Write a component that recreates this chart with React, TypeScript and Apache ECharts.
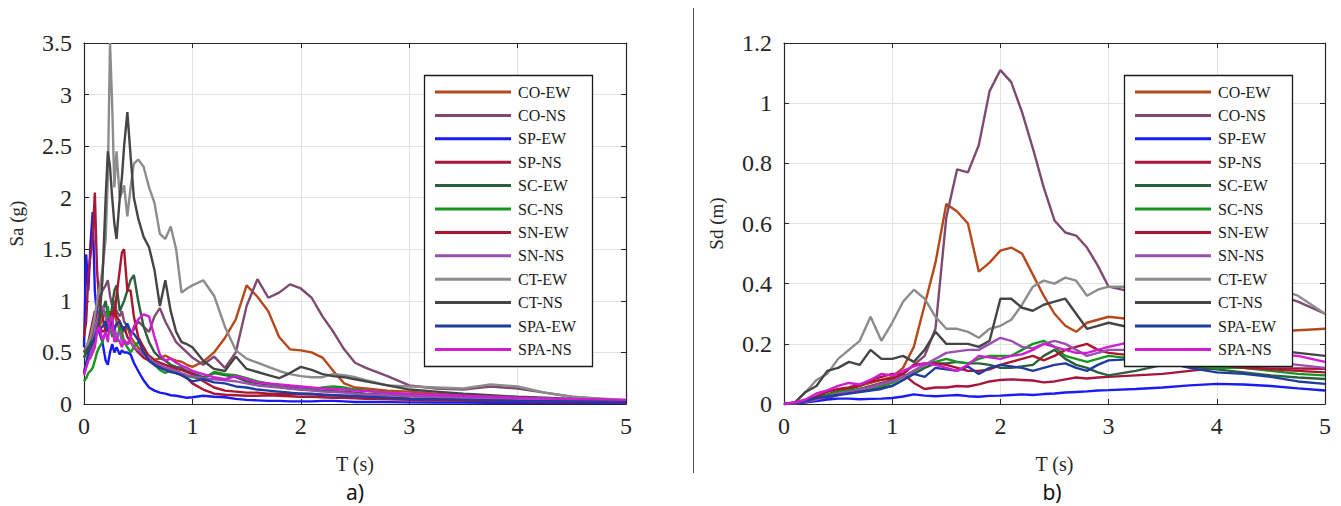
import React, { useEffect, useRef } from "react";
import * as echarts from "echarts";

// Record names and line colours (same order in both panels)
const RECORD_NAMES = [
  "CO-EW", "CO-NS", "SP-EW", "SP-NS", "SC-EW", "SC-NS",
  "SN-EW", "SN-NS", "CT-EW", "CT-NS", "SPA-EW", "SPA-NS",
];
const RECORD_COLORS = [
  "#B5491A", "#7E4A72", "#1A1AF5", "#A8173A", "#2B5F3D", "#16961E",
  "#A8172E", "#9A50B0", "#8C8C8C", "#454545", "#1F3C9E", "#D21CD2",
];

// Panel a) — spectral acceleration Sa (g) against period T (s)
const PERIOD_A = [
  0, 0.02, 0.04, 0.06, 0.08, 0.1, 0.12, 0.14, 0.17, 0.2,
  0.22, 0.24, 0.26, 0.28, 0.3, 0.33, 0.35, 0.37, 0.4, 0.43,
  0.46, 0.5, 0.55, 0.6, 0.65, 0.7, 0.75, 0.8, 0.85, 0.9,
  0.95, 1.0, 1.1, 1.2, 1.3, 1.4, 1.5, 1.6, 1.7, 1.8,
  1.9, 2.0, 2.1, 2.2, 2.3, 2.4, 2.5, 2.6, 2.8, 3.0,
  3.25, 3.5, 3.75, 4.0, 4.25, 4.5, 4.75, 5.0,
];

const SA_CO_EW = [
  0.3, 0.38, 0.45, 0.5, 0.55, 0.62, 0.7, 0.75, 0.82, 0.9,
  0.78, 0.7, 0.8, 0.88, 0.8, 0.72, 0.76, 0.7, 0.75, 0.65,
  0.6, 0.55, 0.5, 0.47, 0.43, 0.44, 0.47, 0.44, 0.42, 0.41,
  0.38, 0.36, 0.41, 0.5, 0.64, 0.82, 1.15, 1.04, 0.9, 0.65,
  0.53, 0.52, 0.5, 0.45, 0.32, 0.2, 0.16, 0.15, 0.13, 0.12,
  0.1, 0.08, 0.07, 0.06, 0.05, 0.04, 0.035, 0.03,
];
const SA_CO_NS = [
  0.45, 0.5, 0.55, 0.62, 0.7, 0.8, 0.9, 1.0, 1.1, 1.15,
  1.2, 1.05, 0.95, 1.0, 0.9, 0.85, 0.9, 0.8, 0.75, 0.7,
  0.72, 0.8, 0.75, 0.7, 0.85, 0.93, 0.8, 0.7, 0.6, 0.55,
  0.5, 0.45, 0.38, 0.46, 0.35, 0.5, 0.95, 1.21, 1.03, 1.08,
  1.16, 1.12, 1.03, 0.85, 0.7, 0.53, 0.4, 0.35, 0.27, 0.18,
  0.15, 0.14, 0.17, 0.15, 0.11, 0.07, 0.05, 0.03,
];
const SA_SP_EW = [
  0.55, 1.45, 1.1, 1.55, 1.86, 1.1, 0.85, 0.7, 0.6, 0.42,
  0.38, 0.5, 0.58, 0.5, 0.55, 0.48, 0.52, 0.5, 0.5, 0.48,
  0.4, 0.32, 0.23, 0.16, 0.13, 0.11, 0.1, 0.085, 0.08, 0.07,
  0.06, 0.065, 0.08, 0.07, 0.065, 0.05, 0.04, 0.035, 0.03, 0.03,
  0.025, 0.025, 0.025, 0.03, 0.03, 0.025, 0.02, 0.02, 0.018, 0.016,
  0.015, 0.013, 0.012, 0.011, 0.01, 0.01, 0.009, 0.008,
];
const SA_SP_NS = [
  0.65, 0.8, 1.24, 1.45, 1.6, 2.05, 1.3, 1.0, 0.85, 0.7,
  0.75, 0.9, 0.82, 0.95, 0.85, 0.8, 0.7, 0.75, 0.65, 0.6,
  0.55, 0.5, 0.45, 0.42, 0.38, 0.36, 0.35, 0.33, 0.3, 0.28,
  0.25, 0.2, 0.14, 0.1, 0.09, 0.085, 0.08, 0.08, 0.085, 0.08,
  0.075, 0.07, 0.07, 0.065, 0.06, 0.06, 0.055, 0.05, 0.045, 0.04,
  0.035, 0.03, 0.028, 0.025, 0.022, 0.02, 0.018, 0.015,
];
const SA_SC_EW = [
  0.45, 0.5, 0.55, 0.6, 0.65, 0.7, 0.75, 0.8, 0.9, 1.0,
  0.85, 0.8, 0.95, 1.1, 1.15, 0.9, 0.95, 1.0, 1.1, 1.2,
  1.25, 1.0, 0.75, 0.6, 0.5, 0.45, 0.42, 0.38, 0.36, 0.35,
  0.32, 0.3, 0.26, 0.3, 0.28, 0.26, 0.22, 0.2, 0.19, 0.17,
  0.16, 0.15, 0.14, 0.13, 0.125, 0.12, 0.11, 0.1, 0.09, 0.08,
  0.07, 0.06, 0.055, 0.05, 0.045, 0.04, 0.035, 0.03,
];
const SA_SC_NS = [
  0.22, 0.25, 0.3, 0.32, 0.35, 0.42, 0.5, 0.55, 0.6, 0.7,
  0.95, 0.75, 0.65, 0.7, 0.6, 0.75, 0.7, 0.6, 0.55, 0.5,
  0.55, 0.6, 0.55, 0.45, 0.38, 0.33, 0.3, 0.33, 0.3, 0.29,
  0.27, 0.26, 0.24, 0.31, 0.29, 0.28, 0.25, 0.22, 0.2, 0.17,
  0.15, 0.14, 0.14, 0.16, 0.17, 0.16, 0.14, 0.13, 0.11, 0.09,
  0.08, 0.07, 0.06, 0.05, 0.045, 0.04, 0.035, 0.03,
];
const SA_SN_EW = [
  0.5, 0.55, 0.6, 0.7, 0.8, 0.9, 0.85, 0.75, 0.7, 0.72,
  0.82, 0.8, 0.9, 0.85, 1.05, 1.3, 1.47, 1.5, 1.1, 1.1,
  0.85, 0.65, 0.55, 0.46, 0.42, 0.4, 0.38, 0.36, 0.34, 0.33,
  0.31, 0.29, 0.22, 0.16, 0.13, 0.12, 0.11, 0.11, 0.1, 0.1,
  0.1, 0.1, 0.095, 0.09, 0.085, 0.08, 0.075, 0.07, 0.06, 0.055,
  0.05, 0.045, 0.04, 0.035, 0.03, 0.03, 0.025, 0.02,
];
const SA_SN_NS = [
  0.32, 0.38, 0.45, 0.5, 0.6, 0.7, 0.8, 0.9, 0.95, 0.85,
  0.75, 0.8, 0.7, 0.75, 0.65, 0.7, 0.6, 0.62, 0.58, 0.6,
  0.55, 0.52, 0.48, 0.45, 0.4, 0.38, 0.35, 0.34, 0.32, 0.3,
  0.28, 0.27, 0.25, 0.24, 0.23, 0.22, 0.2, 0.18, 0.17, 0.16,
  0.15, 0.14, 0.13, 0.12, 0.115, 0.11, 0.1, 0.095, 0.085, 0.075,
  0.07, 0.06, 0.055, 0.05, 0.045, 0.04, 0.035, 0.03,
];
const SA_CT_EW = [
  0.5, 0.55, 0.6, 0.65, 0.75, 0.85, 1.0, 1.1, 1.3, 1.6,
  2.2, 3.5, 2.9, 2.1, 2.45, 2.0, 2.05, 2.12, 1.82, 2.1,
  2.33, 2.37, 2.3, 2.1, 1.95, 1.65, 1.6, 1.72, 1.5, 1.08,
  1.12, 1.15, 1.2, 1.05, 0.75, 0.52, 0.44, 0.4, 0.36, 0.32,
  0.29, 0.27, 0.26, 0.26, 0.29, 0.28, 0.26, 0.23, 0.18, 0.17,
  0.16, 0.15, 0.19, 0.17, 0.11, 0.07, 0.055, 0.04,
];
const SA_CT_NS = [
  0.5, 0.52, 0.55, 0.55, 0.6, 0.62, 0.7, 0.8, 1.2, 2.0,
  2.45, 2.3, 2.0, 1.75, 1.6, 2.0, 2.2, 2.5, 2.83, 2.4,
  2.0, 1.8, 1.62, 1.52, 1.3, 0.95, 1.2, 0.9, 0.7, 0.6,
  0.58, 0.55, 0.42, 0.34, 0.32, 0.46, 0.34, 0.31, 0.28, 0.25,
  0.3, 0.36, 0.33, 0.29, 0.27, 0.26, 0.24, 0.22, 0.18, 0.14,
  0.12, 0.1, 0.085, 0.07, 0.06, 0.05, 0.04, 0.03,
];
const SA_SPA_EW = [
  0.3, 0.4, 0.5, 0.55, 0.6, 0.65, 0.7, 0.72, 0.75, 0.8,
  0.7, 0.75, 0.8, 0.72, 0.78, 0.8, 0.75, 0.72, 0.78, 0.7,
  0.68, 0.62, 0.5, 0.42, 0.38, 0.35, 0.33, 0.31, 0.3, 0.28,
  0.25, 0.22, 0.24, 0.21, 0.2, 0.17, 0.16, 0.14, 0.13, 0.12,
  0.11, 0.1, 0.1, 0.09, 0.085, 0.08, 0.075, 0.07, 0.06, 0.05,
  0.045, 0.04, 0.035, 0.03, 0.028, 0.025, 0.022, 0.02,
];
const SA_SPA_NS = [
  0.28, 0.35, 0.42, 0.45, 0.5, 0.55, 0.7, 0.75, 0.62, 0.7,
  0.6, 0.82, 0.85, 0.6, 0.65, 0.6, 0.55, 0.62, 0.58, 0.65,
  0.75, 0.82, 0.87, 0.85, 0.65, 0.48, 0.42, 0.44, 0.4, 0.37,
  0.35, 0.32, 0.29, 0.26, 0.24, 0.27, 0.24, 0.21, 0.2, 0.19,
  0.18, 0.17, 0.16, 0.15, 0.145, 0.14, 0.13, 0.125, 0.11, 0.1,
  0.09, 0.08, 0.07, 0.06, 0.055, 0.05, 0.045, 0.04,
];

// Panel b) — spectral displacement Sd (m) against period T (s)
const PERIOD_B = [
  0, 0.1, 0.2, 0.3, 0.4, 0.5, 0.6, 0.7, 0.8, 0.9,
  1.0, 1.1, 1.2, 1.3, 1.4, 1.5, 1.6, 1.7, 1.8, 1.9,
  2.0, 2.1, 2.2, 2.3, 2.4, 2.5, 2.6, 2.7, 2.8, 2.9,
  3.0, 3.25, 3.5, 3.75, 4.0, 4.25, 4.5, 4.75, 5.0,
];

const SD_CO_EW = [
  0, 0.002, 0.008, 0.02, 0.03, 0.04, 0.05, 0.06, 0.07, 0.08,
  0.09, 0.12, 0.19, 0.33, 0.47, 0.665, 0.64, 0.6, 0.44, 0.47,
  0.51, 0.52, 0.5, 0.43, 0.36, 0.3, 0.26, 0.24, 0.27, 0.28,
  0.29, 0.28, 0.26, 0.25, 0.24, 0.235, 0.24, 0.245, 0.25,
];
const SD_CO_NS = [
  0, 0.002, 0.006, 0.012, 0.02, 0.03, 0.04, 0.05, 0.06, 0.07,
  0.08, 0.1, 0.13, 0.16, 0.25, 0.62, 0.78, 0.77, 0.86, 1.04,
  1.11, 1.07, 0.97, 0.85, 0.72, 0.61, 0.57, 0.56, 0.52, 0.46,
  0.39, 0.37, 0.39, 0.41, 0.42, 0.4, 0.37, 0.34, 0.3,
];
const SD_SP_EW = [
  0, 0.002, 0.006, 0.01, 0.015, 0.018, 0.018, 0.016, 0.017, 0.018,
  0.02, 0.025, 0.032, 0.028, 0.026, 0.028, 0.03, 0.026, 0.024, 0.027,
  0.028, 0.03, 0.032, 0.03, 0.033, 0.035, 0.038, 0.04, 0.042, 0.045,
  0.046, 0.05, 0.055, 0.062, 0.067, 0.065, 0.06, 0.052, 0.045,
];
const SD_SP_NS = [
  0, 0.003, 0.01, 0.02, 0.03, 0.045, 0.05, 0.06, 0.08, 0.09,
  0.1, 0.1, 0.07, 0.05, 0.055, 0.055, 0.06, 0.058, 0.065, 0.075,
  0.08, 0.082, 0.08, 0.078, 0.072, 0.075, 0.082, 0.088, 0.085, 0.088,
  0.09, 0.095, 0.1, 0.11, 0.12, 0.12, 0.118, 0.118, 0.117,
];
const SD_SC_EW = [
  0, 0.003, 0.01, 0.02, 0.03, 0.04, 0.04, 0.045, 0.05, 0.055,
  0.06, 0.08, 0.1, 0.12, 0.135, 0.135, 0.14, 0.135, 0.135, 0.13,
  0.12, 0.12, 0.125, 0.13, 0.16, 0.18, 0.15, 0.13, 0.12, 0.105,
  0.095, 0.11, 0.13, 0.125, 0.115, 0.105, 0.095, 0.088, 0.083,
];
const SD_SC_NS = [
  0, 0.003, 0.01, 0.02, 0.03, 0.04, 0.045, 0.05, 0.055, 0.06,
  0.07, 0.09, 0.11, 0.13, 0.14, 0.15, 0.14, 0.135, 0.15, 0.16,
  0.16, 0.16, 0.18, 0.2, 0.21, 0.19, 0.16, 0.15, 0.14, 0.15,
  0.16, 0.15, 0.14, 0.13, 0.12, 0.12, 0.11, 0.1, 0.095,
];
const SD_SN_EW = [
  0, 0.004, 0.012, 0.025, 0.04, 0.05, 0.055, 0.065, 0.075, 0.08,
  0.085, 0.1, 0.13, 0.135, 0.135, 0.13, 0.12, 0.11, 0.11, 0.115,
  0.13, 0.14, 0.15, 0.16, 0.145, 0.16, 0.18, 0.19, 0.2, 0.18,
  0.17, 0.16, 0.15, 0.14, 0.13, 0.12, 0.115, 0.11, 0.105,
];
const SD_SN_NS = [
  0, 0.003, 0.008, 0.015, 0.025, 0.035, 0.04, 0.048, 0.055, 0.065,
  0.075, 0.09, 0.11, 0.13, 0.15, 0.17, 0.175, 0.18, 0.18, 0.2,
  0.22, 0.21, 0.19, 0.185, 0.2, 0.21, 0.2, 0.18, 0.16, 0.17,
  0.18, 0.18, 0.17, 0.16, 0.15, 0.145, 0.14, 0.13, 0.12,
];
const SD_CT_EW = [
  0, 0.005, 0.04, 0.08, 0.1, 0.15, 0.18, 0.21, 0.29, 0.21,
  0.27, 0.34, 0.38, 0.35, 0.29, 0.25, 0.25, 0.24, 0.22, 0.25,
  0.26, 0.28, 0.33, 0.39, 0.41, 0.4, 0.42, 0.41, 0.36, 0.38,
  0.39, 0.39, 0.4, 0.41, 0.42, 0.41, 0.39, 0.36, 0.3,
];
const SD_CT_NS = [
  0, 0.005, 0.04, 0.06, 0.11, 0.12, 0.14, 0.13, 0.18, 0.15,
  0.15, 0.16, 0.14, 0.18, 0.24, 0.2, 0.2, 0.2, 0.19, 0.21,
  0.35, 0.35, 0.32, 0.31, 0.33, 0.34, 0.35, 0.3, 0.25, 0.26,
  0.27, 0.25, 0.22, 0.21, 0.2, 0.19, 0.18, 0.17, 0.16,
];
const SD_SPA_EW = [
  0, 0.003, 0.01, 0.02, 0.025, 0.03, 0.035, 0.04, 0.045, 0.05,
  0.06, 0.08, 0.1, 0.09, 0.12, 0.115, 0.11, 0.125, 0.1, 0.12,
  0.13, 0.125, 0.12, 0.11, 0.12, 0.13, 0.135, 0.12, 0.11, 0.13,
  0.145, 0.15, 0.14, 0.12, 0.105, 0.1, 0.09, 0.075, 0.067,
];
const SD_SPA_NS = [
  0, 0.005, 0.015, 0.035, 0.045, 0.06, 0.07, 0.065, 0.08, 0.1,
  0.095, 0.11, 0.125, 0.135, 0.13, 0.12, 0.11, 0.13, 0.16, 0.155,
  0.15, 0.16, 0.165, 0.18, 0.2, 0.19, 0.18, 0.17, 0.17, 0.18,
  0.19, 0.21, 0.2, 0.19, 0.18, 0.17, 0.165, 0.16, 0.14,
];

const SA_VALUES = [
  SA_CO_EW, SA_CO_NS, SA_SP_EW, SA_SP_NS, SA_SC_EW, SA_SC_NS,
  SA_SN_EW, SA_SN_NS, SA_CT_EW, SA_CT_NS, SA_SPA_EW, SA_SPA_NS,
];
const SD_VALUES = [
  SD_CO_EW, SD_CO_NS, SD_SP_EW, SD_SP_NS, SD_SC_EW, SD_SC_NS,
  SD_SN_EW, SD_SN_NS, SD_CT_EW, SD_CT_NS, SD_SPA_EW, SD_SPA_NS,
];

const SERIF = "Liberation Serif";
const INK = "#262626";
const GRID_LINE = "#E3E3E3";

function lineSeries(periods: number[], values: number[], idx: number, axisIdx: number) {
  const color = RECORD_COLORS[idx];
  return {
    type: "line",
    name: RECORD_NAMES[idx],
    xAxisIndex: axisIdx,
    yAxisIndex: axisIdx,
    data: periods.map((t, i) => [t, values[i]]),
    symbol: "none",
    showSymbol: false,
    lineStyle: { color, width: 2.4 },
    itemStyle: { color, borderWidth: 0 },
    emphasis: { disabled: true },
    z: 2,
  };
}

function periodAxes(gridIndex: number) {
  const common = {
    gridIndex,
    type: "value",
    min: 0,
    max: 5,
    interval: 1,
    axisLine: { show: true, onZero: false, lineStyle: { color: INK, width: 1.2 } },
    axisTick: { show: true, inside: true, length: 5, lineStyle: { color: INK, width: 1 } },
  };
  return [
    {
      ...common,
      position: "bottom",
      name: "T (s)",
      nameLocation: "middle",
      nameGap: 50,
      nameTextStyle: { fontFamily: SERIF, fontSize: 20, color: INK },
      axisLabel: {
        fontFamily: SERIF, fontSize: 24, color: INK, margin: 10,
        showMinLabel: true, showMaxLabel: true,
      },
      splitLine: { show: true, lineStyle: { color: GRID_LINE, width: 1 } },
    },
    {
      ...common,
      position: "top",
      axisLabel: { show: false },
      splitLine: { show: false },
    },
  ];
}

function valueAxes(gridIndex: number, max: number, interval: number, name: string) {
  const common = {
    gridIndex,
    type: "value",
    min: 0,
    max,
    interval,
    axisLine: { show: true, onZero: false, lineStyle: { color: INK, width: 1.2 } },
    axisTick: { show: true, inside: true, length: 5, lineStyle: { color: INK, width: 1 } },
  };
  return [
    {
      ...common,
      position: "left",
      name,
      nameLocation: "middle",
      nameGap: 58,
      nameTextStyle: { fontFamily: SERIF, fontSize: 19, color: INK },
      axisLabel: {
        fontFamily: SERIF, fontSize: 24, color: INK, margin: 12,
        showMinLabel: true, showMaxLabel: true,
        formatter: (v: number) => String(+v.toFixed(2)),
      },
      splitLine: { show: true, lineStyle: { color: GRID_LINE, width: 1 } },
    },
    {
      ...common,
      position: "right",
      axisLabel: { show: false },
      splitLine: { show: false },
    },
  ];
}

function legendAt(left: number) {
  return {
    data: RECORD_NAMES,
    orient: "vertical",
    left,
    top: 84,
    padding: 0,
    icon: "rect",
    itemWidth: 76,
    itemHeight: 3,
    itemGap: 7.4,
    selectedMode: false,
    itemStyle: { borderWidth: 0 },
    textStyle: { fontFamily: SERIF, fontSize: 16, lineHeight: 16, color: "#1a1a1a", padding: [0, 0, 0, 2] },
    z: 5,
  };
}

function legendFrame(x: number) {
  return {
    type: "rect",
    z: 4,
    shape: { x: x + 0.5, y: 75.5, width: 168, height: 291 },
    style: { fill: "#ffffff", stroke: "#1a1a1a", lineWidth: 1.3 },
  };
}

function panelLabel(x: number, text: string) {
  return {
    type: "text",
    z: 5,
    x,
    y: 492,
    style: {
      text,
      fontFamily: "Noto Sans",
      fontSize: 21,
      fill: "#111",
      align: "center",
      verticalAlign: "middle",
    },
  };
}

export default function App() {
  const ref = useRef<HTMLDivElement>(null);

  useEffect(() => {
    if (!ref.current) return;
    const chart = echarts.init(ref.current, undefined, { renderer: "svg" });
    const [xa0, xa1] = periodAxes(0);
    const [xb0, xb1] = periodAxes(1);
    const [ya0, ya1] = valueAxes(0, 3.5, 0.5, "Sa (g)");
    const [yb0, yb1] = valueAxes(1, 1.2, 0.2, "Sd (m)");

    const seriesA = SA_VALUES.map((vals, i) => lineSeries(PERIOD_A, vals, i, 0));
    const seriesB = SD_VALUES.map((vals, i) => lineSeries(PERIOD_B, vals, i, 2));

    chart.setOption({
      animation: false,
      backgroundColor: "#ffffff",
      textStyle: { fontFamily: SERIF },
      grid: [
        { left: 84, top: 43, width: 542, height: 361, containLabel: false },
        { left: 784, top: 43, width: 541, height: 361, containLabel: false },
      ],
      xAxis: [xa0, xa1, xb0, xb1],
      yAxis: [ya0, ya1, yb0, yb1],
      legend: [legendAt(435), legendAt(1135)],
      graphic: [
        legendFrame(424),
        legendFrame(1124),
        {
          type: "line",
          shape: { x1: 693.5, y1: 8, x2: 693.5, y2: 473 },
          style: { stroke: "#555", lineWidth: 1 },
        },
        panelLabel(355, "a)"),
        panelLabel(1052, "b)"),
      ],
      series: [...seriesA, ...seriesB],
    });
    return () => chart.dispose();
  }, []);

  return (
    <div
      ref={ref}
      style={{ position: "absolute", left: 0, top: 0, width: 1341, height: 506, background: "#fff" }}
    />
  );
}
